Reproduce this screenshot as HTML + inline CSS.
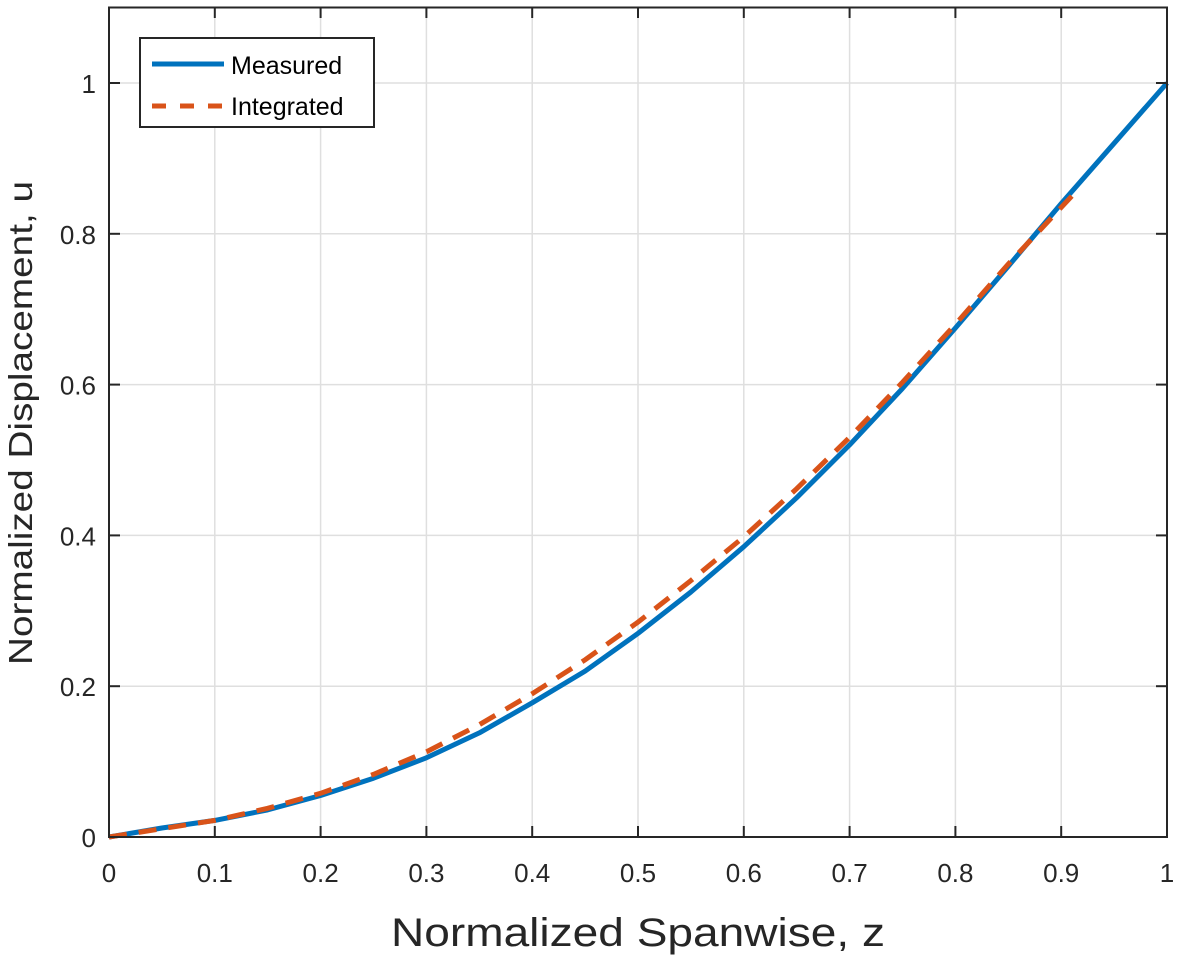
<!DOCTYPE html>
<html><head><meta charset="utf-8"><style>
html,body{margin:0;padding:0;background:#fff;}
svg{display:block;font-family:"Liberation Sans",Arial,sans-serif;}
</style></head><body>
<svg id="chart" width="1181" height="960" viewBox="0 0 1181 960">
<g id="grid"></g>
<g id="series"></g>
<rect x="109" y="7.5" width="1058" height="829.5" fill="none" stroke="#262626" stroke-width="2"/>
<g id="ticks"></g>
<text x="638" y="946" font-size="40" text-anchor="middle" fill="#262626" textLength="494" lengthAdjust="spacingAndGlyphs">Normalized Spanwise, z</text>
<text transform="translate(32,423) rotate(-90)" font-size="33" text-anchor="middle" fill="#262626" textLength="484" lengthAdjust="spacingAndGlyphs">Normalized Displacement, u</text>
<g>
<rect x="140" y="38" width="234" height="89" fill="#fff" stroke="#262626" stroke-width="2"/>
<line x1="152" y1="64" x2="224" y2="64" stroke="#0072BD" stroke-width="5"/>
<text x="231" y="74" font-size="25" fill="#000">Measured</text>
<line x1="152" y1="106" x2="224" y2="106" stroke="#D95319" stroke-width="5" stroke-dasharray="14,14"/>
<text x="231" y="115" font-size="25" fill="#000">Integrated</text>
</g>
</svg>
<script>
const xTicks=[0,0.1,0.2,0.3,0.4,0.5,0.6,0.7,0.8,0.9,1];
const xTickLabels=["0","0.1","0.2","0.3","0.4","0.5","0.6","0.7","0.8","0.9","1"];
const yTicks=[0,0.2,0.4,0.6,0.8,1];
const yTickLabels=["0","0.2","0.4","0.6","0.8","1"];
const measuredZ=[0,0.05,0.1,0.15,0.2,0.25,0.3,0.35,0.4,0.45,0.5,0.55,0.6,0.65,0.7,0.75,0.8,0.85,0.9,0.95,1];
const measuredU=[0,0.012,0.022,0.036,0.055,0.078,0.105,0.138,0.178,0.22,0.27,0.325,0.385,0.45,0.52,0.595,0.675,0.757,0.84,0.92,1];
const integratedZ=[0,0.05,0.1,0.15,0.2,0.25,0.3,0.35,0.4,0.45,0.5,0.55,0.6,0.65,0.7,0.75,0.8,0.85,0.91];
const integratedU=[0,0.011,0.022,0.038,0.058,0.083,0.113,0.149,0.19,0.235,0.285,0.34,0.398,0.462,0.53,0.603,0.68,0.76,0.85];
const NS="http://www.w3.org/2000/svg";
const X=v=>109+v*1058, Y=v=>837-v*754;
function mk(t,a,p){const e=document.createElementNS(NS,t);for(const k in a)e.setAttribute(k,a[k]);p.appendChild(e);return e;}
const grid=document.getElementById('grid'),ticks=document.getElementById('ticks'),series=document.getElementById('series');
xTicks.forEach((v,i)=>{
 const g=mk('line',{x1:X(v),x2:X(v),y1:7.5,y2:837,stroke:'#dfdfdf','stroke-width':1.5},grid);
 
 
 const t1=mk('line',{x1:X(v),x2:X(v),y1:837,y2:826,stroke:'#262626','stroke-width':2},ticks);
 
 
 const t2=mk('line',{x1:X(v),x2:X(v),y1:7.5,y2:18,stroke:'#262626','stroke-width':2},ticks);
 
 
 const l=mk('text',{x:X(v),y:882,'font-size':26,'text-anchor':'middle',fill:'#262626'},ticks);
 l.textContent=xTickLabels[i];
 
 
});
yTicks.forEach((v,i)=>{
 const g=mk('line',{x1:109,x2:1167,y1:Y(v),y2:Y(v),stroke:'#dfdfdf','stroke-width':1.5},grid);
 
 
 const t1=mk('line',{x1:109,x2:120,y1:Y(v),y2:Y(v),stroke:'#262626','stroke-width':2},ticks);
 
 
 const t2=mk('line',{x1:1156,x2:1167,y1:Y(v),y2:Y(v),stroke:'#262626','stroke-width':2},ticks);
 
 
 const l=mk('text',{x:96,y:Y(v)+10,'font-size':26,'text-anchor':'end',fill:'#262626'},ticks);
 l.textContent=yTickLabels[i];
 
 
});
function pts(zs,us){return zs.map((z,i)=>X(z).toFixed(1)+','+Y(us[i]).toFixed(1)).join(' ');}
const m=mk('polyline',{points:pts(measuredZ,measuredU),fill:'none',stroke:'#0072BD','stroke-width':5,'stroke-linejoin':'round'},series);


const n=mk('polyline',{points:pts(integratedZ,integratedU),fill:'none',stroke:'#D95319','stroke-width':5,'stroke-dasharray':'18,12'},series);


</script>
</body></html>
